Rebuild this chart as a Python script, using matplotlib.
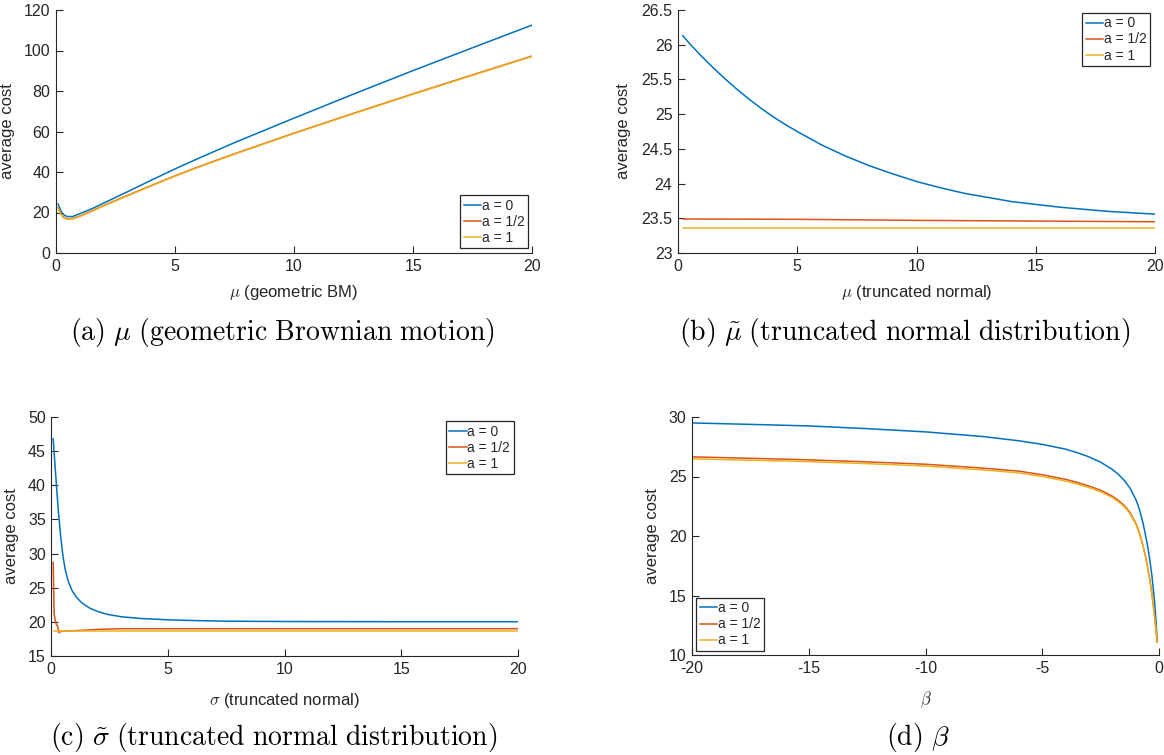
import numpy as np
import matplotlib
matplotlib.use("Agg")
import matplotlib.pyplot as plt
from matplotlib.ticker import FormatStrFormatter

plt.rcParams['font.family'] = ['Liberation Sans', 'DejaVu Sans']
plt.rcParams['mathtext.fontset'] = 'cm'
plt.rcParams['axes.unicode_minus'] = False

# MATLAB default colours
BLUE = '#0072BD'
ORANGE = '#D95319'
YELLOW = '#EDB120'
GREY = '#262626'
labels = ['a = 0', 'a = 1/2', 'a = 1']

# (a) mu, geometric Brownian motion
a_x = [0.1, 0.2, 0.3, 0.4, 0.5, 0.7, 1, 1.5, 2, 2.5, 3, 4, 5, 6, 7.5, 10, 12.5, 15, 17.5, 20]
a_y0 = [24.2, 21.0, 19.3, 18.4, 18.0, 18.0, 19.4, 21.8, 24.6, 27.4, 30.2, 35.9, 41.5, 46.8, 54.5,
        66.6, 78.5, 90.1, 101.4, 112.6]
a_y1 = [22.5, 19.5, 17.9, 17.2, 16.9, 17.0, 18.2, 20.7, 23.4, 25.9, 28.4, 33.3, 38.1, 42.6, 49.0,
        59.2, 69.0, 78.6, 88.0, 97.3]
a_y2 = [22.3, 19.3, 17.7, 17.0, 16.7, 16.8, 18.0, 20.5, 23.2, 25.7, 28.2, 33.1, 37.9, 42.4, 48.8,
        59.0, 68.8, 78.4, 87.8, 97.1]

# (b) mu, truncated normal
b_x = [0.2, 0.5, 1, 1.5, 2, 2.5, 3, 3.5, 4, 4.5, 5, 6, 7, 8, 9, 10, 11, 12, 13, 14, 15, 16, 17, 18, 19, 20]
b_y0 = [26.13, 26.01, 25.83, 25.66, 25.50, 25.35, 25.21, 25.08, 24.96, 24.85, 24.75, 24.56, 24.40,
        24.26, 24.14, 24.03, 23.94, 23.86, 23.80, 23.74, 23.70, 23.66, 23.63, 23.60, 23.58, 23.56]
b_x1 = [0.2, 5, 10, 15, 20]
b_y1 = [23.49, 23.485, 23.47, 23.46, 23.45]
b_y2 = [23.36, 23.36, 23.36, 23.36, 23.36]

# (c) sigma, truncated normal
c_x0 = [0.08, 0.15, 0.22, 0.3, 0.4, 0.5, 0.6, 0.72, 0.9, 1.08, 1.3, 1.65, 2, 2.4, 3, 3.8, 5, 6,
        7.5, 10, 15, 20]
c_y0 = [46.8, 43.4, 40.0, 36.3, 32.6, 29.6, 27.6, 26.0, 24.5, 23.6, 22.8, 22.0, 21.5, 21.1, 20.75,
        20.5, 20.3, 20.2, 20.1, 20.05, 20.02, 20.02]
c_x1 = [0.08, 0.12, 0.17, 0.22, 0.27, 0.33, 0.4, 0.6, 1, 1.5, 2, 2.5, 3, 5, 10, 15, 20]
c_y1 = [28.7, 21.2, 20.2, 19.6, 19.4, 18.4, 18.6, 18.65, 18.7, 18.8, 18.9, 18.95, 19.0, 19.0, 19.0, 19.0, 19.0]
c_x2 = [0.1, 5, 10, 15, 20]
c_y2 = [18.7, 18.7, 18.7, 18.7, 18.7]

# (d) beta
d_x = [-20, -17.5, -15, -12.5, -10, -7.5, -6, -5, -4, -3.5, -3, -2.5, -2, -1.75, -1.5, -1.25, -1,
       -0.9, -0.8, -0.7, -0.6, -0.5, -0.4, -0.3, -0.2, -0.15, -0.12, -0.08]
d_y0 = [29.5, 29.38, 29.25, 29.02, 28.75, 28.35, 28.0, 27.7, 27.3, 27.0, 26.65, 26.2, 25.6, 25.2,
        24.7, 24.05, 23.1, 22.6, 21.95, 21.2, 20.3, 19.3, 18.1, 16.6, 14.7, 13.5, 12.6, 11.1]
d_y1 = [26.65, 26.53, 26.4, 26.23, 26.03, 25.7, 25.45, 25.15, 24.76, 24.5, 24.2, 23.85, 23.35, 23.0,
        22.6, 22.0, 21.1, 20.6, 20.0, 19.3, 18.5, 17.5, 16.4, 15.1, 13.4, 12.5, 11.9, 11.1]
d_y2 = [26.48, 26.37, 26.25, 26.08, 25.88, 25.55, 25.3, 25.0, 24.62, 24.36, 24.07, 23.72, 23.23, 22.89,
        22.5, 21.9, 21.02, 20.53, 19.94, 19.25, 18.46, 17.47, 16.38, 15.09, 13.4, 12.5, 11.9, 11.1]

fig = plt.figure(figsize=(11.64, 7.55), dpi=100)
W, H = 1164.0, 755.0


def make_axes(left, top, right, bottom):
    return fig.add_axes([left / W, 1 - bottom / H, (right - left) / W, (bottom - top) / H])


def style(ax):
    for s in ['top', 'right']:
        ax.spines[s].set_visible(False)
    for s in ['left', 'bottom']:
        ax.spines[s].set_color(GREY)
        ax.spines[s].set_linewidth(0.8)
    ax.tick_params(direction='in', length=5, width=0.8, colors=GREY, labelsize=11.5, pad=4)
    ax.set_ylabel('average cost', fontsize=12, color=GREY)


def legend(ax, loc, anchor):
    leg = ax.legend(labels, loc=loc, bbox_to_anchor=anchor, fontsize=10, frameon=True,
                    fancybox=False, framealpha=1, edgecolor=GREY, borderpad=0.25,
                    labelspacing=0.15, handlelength=1.25, handletextpad=0.05,
                    borderaxespad=0)
    leg.get_frame().set_linewidth(0.9)
    for t in leg.get_texts():
        t.set_color(GREY)


def caption(xpx, ypx, s):
    fig.text(xpx / W, 1 - ypx / H, s, fontsize=20, ha='center', va='center')


lw = 1.1

# (a)
ax = make_axes(55.8, 10, 532.3, 253)
ax.plot(a_x, a_y0, color=BLUE, lw=lw)
ax.plot(a_x, a_y1, color=ORANGE, lw=lw)
ax.plot(a_x, a_y2, color=YELLOW, lw=lw)
ax.set_xlim(0, 20)
ax.set_ylim(0, 120)
ax.set_xticks([0, 5, 10, 15, 20])
ax.set_yticks(range(0, 121, 20))
style(ax)
ax.set_xlabel(r'$\mu$ (geometric BM)', fontsize=12, color=GREY)
ax.xaxis.set_label_coords(0.5, -0.125)
ax.yaxis.set_label_coords(-0.085, 0.5)
legend(ax, 'lower right', (0.991, 0.02))
caption(282, 333, r'$\mathrm{(a)}\ \mu\ \mathrm{(geometric\ Brownian\ motion)}$')

# (b)
ax = make_axes(678, 10, 1155, 253)
ax.plot(b_x, b_y0, color=BLUE, lw=lw)
ax.plot(b_x1, b_y1, color=ORANGE, lw=lw)
ax.plot(b_x1, b_y2, color=YELLOW, lw=lw)
ax.set_xlim(0, 20)
ax.set_ylim(23, 26.5)
ax.set_xticks([0, 5, 10, 15, 20])
ax.set_yticks(np.arange(23, 26.51, 0.5))
ax.yaxis.set_major_formatter(FormatStrFormatter('%g'))
style(ax)
ax.set_xlabel(r'$\mu$ (truncated normal)', fontsize=12, color=GREY)
ax.xaxis.set_label_coords(0.5, -0.125)
ax.yaxis.set_label_coords(-0.098, 0.5)
legend(ax, 'upper right', (0.99, 0.988))
caption(905, 333, r'$\mathrm{(b)}\ \tilde{\mu}\ \mathrm{(truncated\ normal\ distribution)}$')

# (c)
ax = make_axes(51.3, 417, 518, 656)
ax.plot(c_x0, c_y0, color=BLUE, lw=lw)
ax.plot(c_x1, c_y1, color=ORANGE, lw=lw)
ax.plot(c_x2, c_y2, color=YELLOW, lw=lw)
ax.set_xlim(0, 20)
ax.set_ylim(15, 50)
ax.set_xticks([0, 5, 10, 15, 20])
ax.set_yticks(range(15, 51, 5))
style(ax)
ax.set_xlabel(r'$\sigma$ (truncated normal)', fontsize=12, color=GREY)
ax.xaxis.set_label_coords(0.5, -0.145)
ax.yaxis.set_label_coords(-0.07, 0.5)
legend(ax, 'upper right', (0.991, 0.983))
caption(274, 737, r'$\mathrm{(c)}\ \tilde{\sigma}\ \mathrm{(truncated\ normal\ distribution)}$')

# (d)
ax = make_axes(692, 417, 1159, 655)
ax.plot(d_x, d_y0, color=BLUE, lw=lw)
ax.plot(d_x, d_y1, color=ORANGE, lw=lw)
ax.plot(d_x, d_y2, color=YELLOW, lw=lw)
ax.set_xlim(-20, 0)
ax.set_ylim(10, 30)
ax.set_xticks([-20, -15, -10, -5, 0])
ax.set_yticks(range(10, 31, 5))
style(ax)
ax.set_xlabel(r'$\beta$', fontsize=12, color=GREY)
ax.xaxis.set_label_coords(0.5, -0.145)
ax.yaxis.set_label_coords(-0.068, 0.5)
legend(ax, 'lower left', (0.009, 0.017))
caption(918, 737, r'$\mathrm{(d)}\ \beta$')

fig.savefig('out.png', dpi=100)
